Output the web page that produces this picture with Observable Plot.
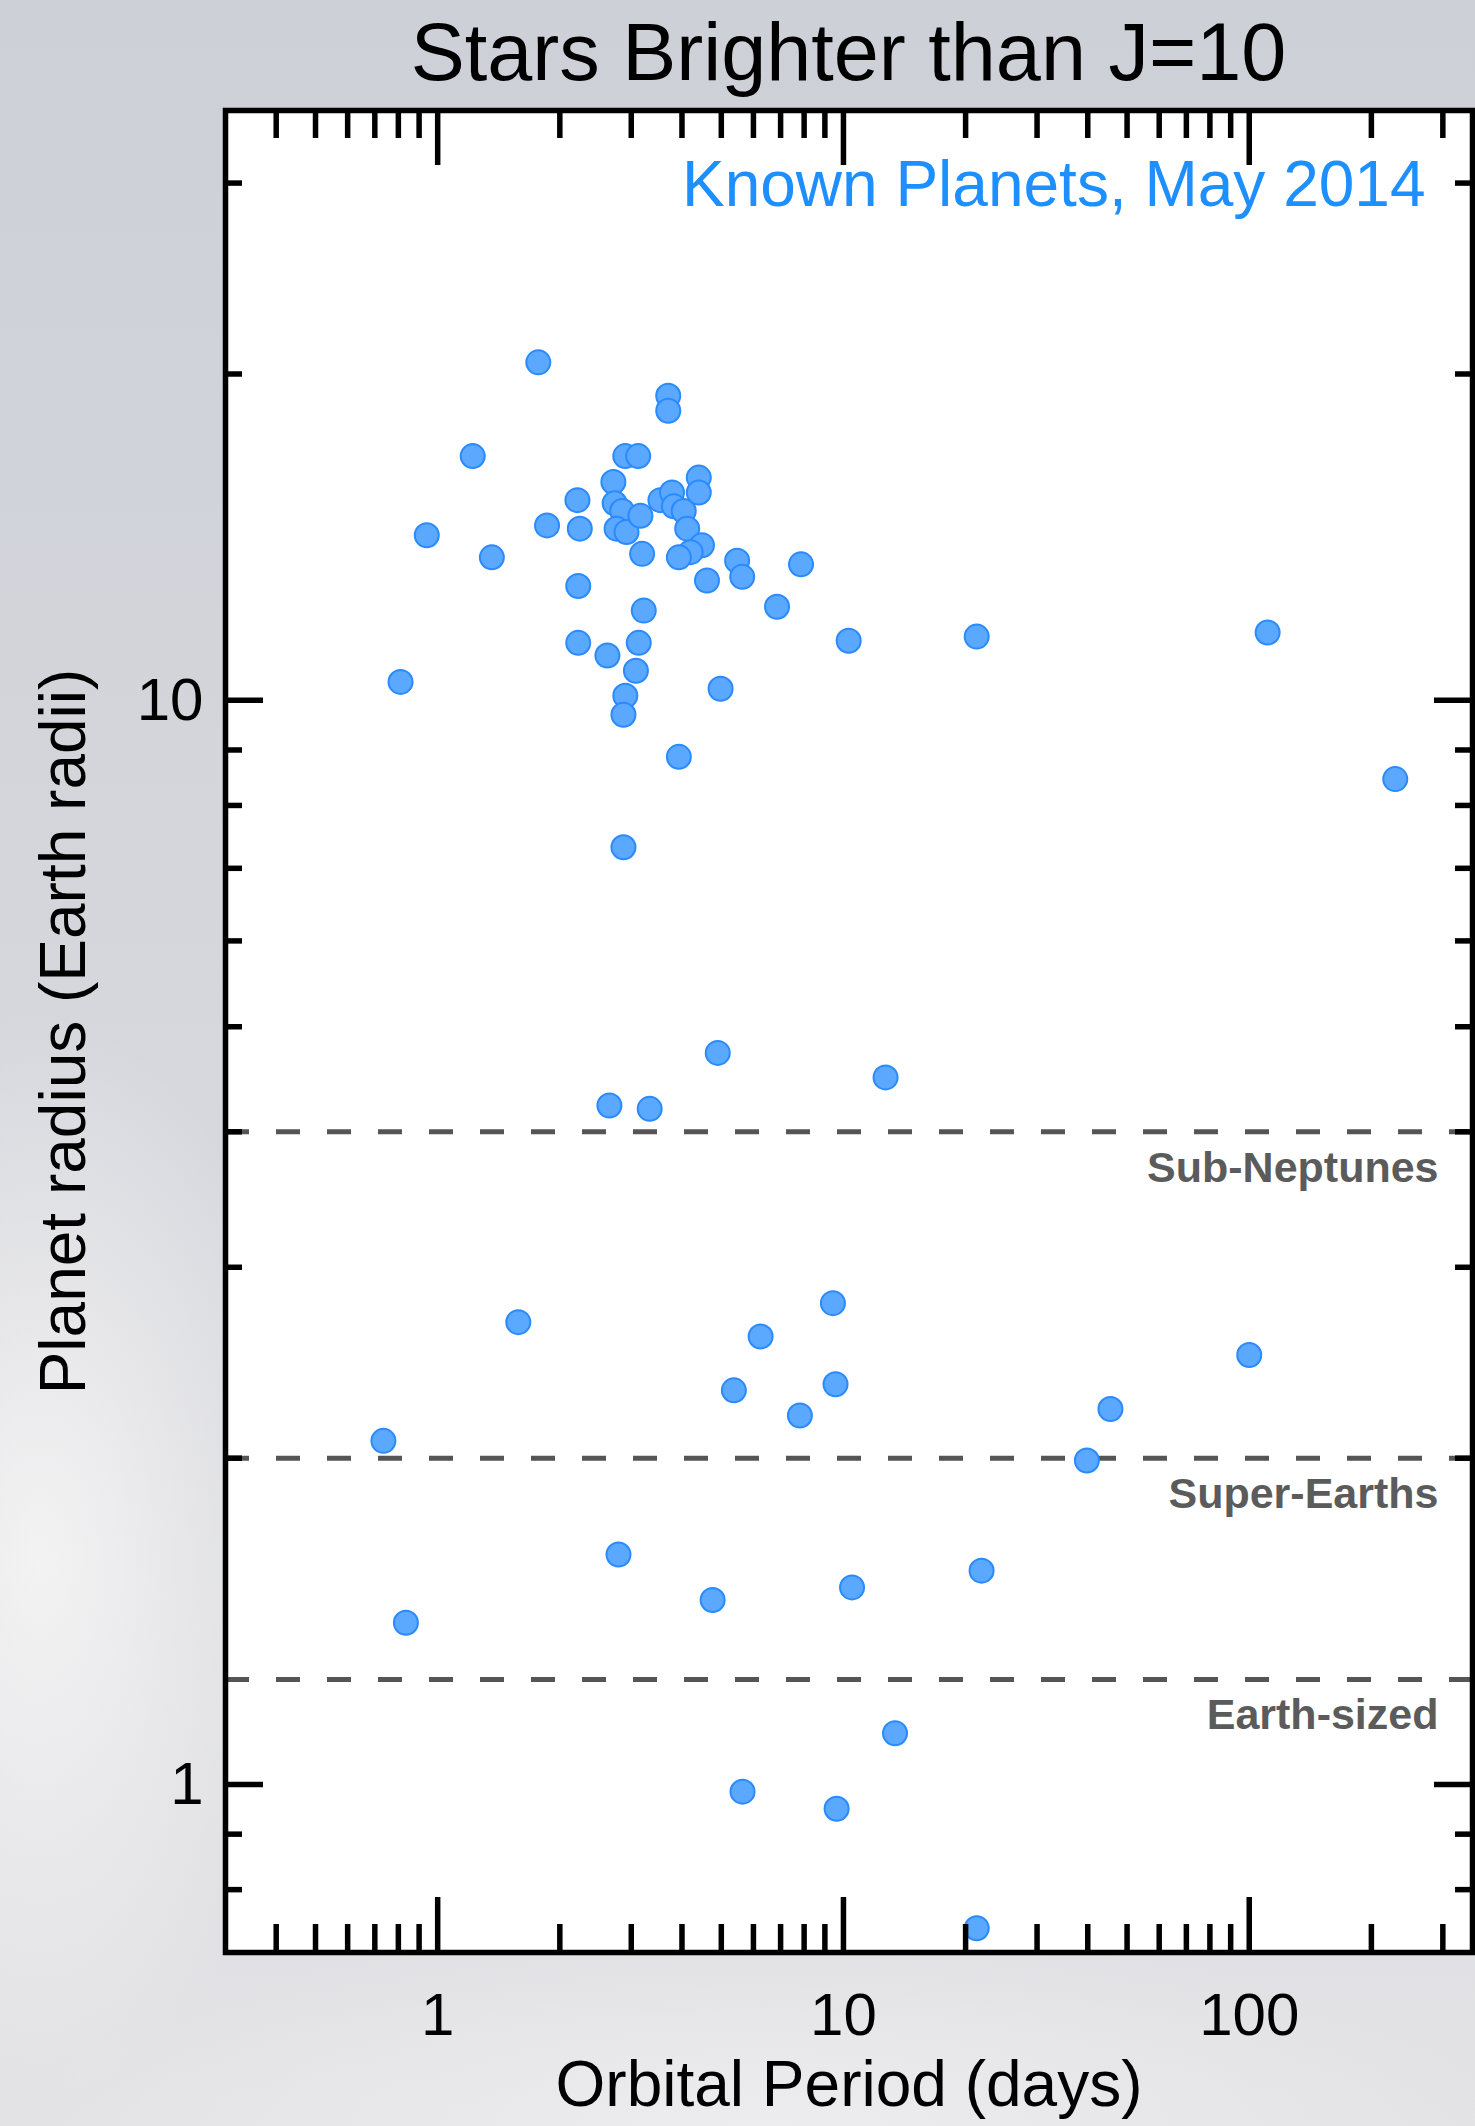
<!DOCTYPE html>
<html>
<head>
<meta charset="utf-8">
<script src="https://cdn.jsdelivr.net/npm/d3@7"></script>
<script src="https://cdn.jsdelivr.net/npm/@observablehq/plot@0.6"></script>
<style>
  html, body { margin: 0; padding: 0; }
  body {
    width: 1475px;
    height: 2126px;
    position: relative;
    overflow: hidden;
    font-family: "Liberation Sans", Arial, Helvetica, sans-serif;
    background:
      radial-gradient(ellipse 380px 760px at 40px 1560px, rgba(246,245,245,0.9), rgba(246,245,245,0) 72%),
      radial-gradient(ellipse 1000px 260px at 760px 2126px, rgba(238,238,240,0.9), rgba(238,238,240,0) 75%),
      linear-gradient(to bottom, #cdd0d7 0%, #d3d5db 35%, #d9dadf 65%, #e3e3e6 100%);
  }
  #title {
    position: absolute;
    left: 225px;
    width: 1247px;
    top: 12px;
    text-align: center;
    font-size: 81px;
    line-height: 81px;
    color: #000;
    white-space: nowrap;
  }
  #chart { position: absolute; left: 0; top: 100px; }
</style>
</head>
<body>
<div id="title">Stars Brighter than J=10</div>
<div id="chart"></div>
<script>
// Orbital period (days) and radius (Earth radii) of known transiting planets
const periodDays = [
  1.77, 3.70, 3.70, 1.22, 2.90, 3.12, 2.71, 2.21, 2.73, 2.85,
  2.76, 2.92, 3.16, 3.54, 3.78, 3.82, 4.04, 4.12, 4.40, 4.40,
  4.48, 4.20, 3.93, 3.19, 2.24, 1.86, 0.94, 1.36, 4.61, 5.47,
  5.63, 7.86, 6.86, 2.22, 3.22, 2.22, 2.62, 3.13, 3.08, 2.90,
  2.87, 0.81, 4.98, 3.93, 2.87, 10.3, 21.3, 111, 229, 4.90,
  12.7, 2.65, 3.33, 1.58, 9.42, 6.25, 100, 5.37, 9.56, 7.81,
  45.5, 0.735, 39.8, 2.79, 0.835, 4.76, 10.5, 21.9, 13.4, 5.64,
  9.62, 21.3
];
const radiusEarth = [
  20.5, 19.1, 18.5, 16.8, 16.8, 16.8, 15.9, 15.3, 15.2, 14.95,
  14.4, 14.3, 14.8, 15.3, 15.55, 15.1, 14.95, 14.4, 16.05, 15.55,
  13.9, 13.7, 13.55, 13.65, 14.4, 14.5, 14.2, 13.55, 12.9, 13.45,
  13.0, 13.35, 12.2, 12.75, 12.1, 11.3, 11.0, 11.3, 10.65, 10.1,
  9.7, 10.4, 10.25, 8.87, 7.32, 11.35, 11.45, 11.55, 8.46, 4.73,
  4.49, 4.23, 4.20, 2.67, 2.78, 2.59, 2.49, 2.31, 2.34, 2.19,
  2.22, 2.075, 1.99, 1.63, 1.41, 1.48, 1.52, 1.575, 1.115, 0.985,
  0.95, 0.737
];

// Size-class boundaries (Earth radii) and the class named just below each
const classBounds = [4, 2, 1.25];
const classNames = ["Sub-Neptunes", "Super-Earths", "Earth-sized"];

// Axis extents and tick positions
const periodDomain = [0.3, 355];
const radiusDomain = [0.7, 35];
const xMajorTicks = [1, 10, 100];
const xMinorTicks = [0.4, 0.5, 0.6, 0.7, 0.8, 0.9, 2, 3, 4, 5, 6, 7, 8, 9,
                     20, 30, 40, 50, 60, 70, 80, 90, 200, 300];
const yMajorTicks = [1, 10];
const yMinorTicks = [0.8, 0.9, 2, 3, 4, 5, 6, 7, 8, 9, 20, 30];

const xTitle = "Orbital Period (days)";
const yTitle = "Planet radius (Earth radii)";
const sampleNote = "Known Planets, May 2014";

const planets = periodDays.map((p, i) => ({period: p, radius: radiusEarth[i]}));
const classes = classBounds.map((b, i) => ({bound: b, name: classNames[i]}));

const W = 1475, H = 2026;
const M = {top: 10, right: 3, bottom: 174, left: 225};
const frameW = W - M.left - M.right;
const frameH = H - M.top - M.bottom;

const tickStyle = {stroke: "black", strokeWidth: 5.5};

const chart = Plot.plot({
  width: W,
  height: H,
  marginTop: M.top,
  marginRight: M.right,
  marginBottom: M.bottom,
  marginLeft: M.left,
  x: {type: "log", domain: periodDomain},
  y: {type: "log", domain: radiusDomain},
  style: {
    background: "transparent",
    fontFamily: "'Liberation Sans', Arial, Helvetica, sans-serif",
    overflow: "visible",
    color: "black"
  },
  marks: [
    Plot.frame({fill: "white", stroke: null}),

    // size-class boundaries and their names
    Plot.ruleY(classes, {y: "bound", stroke: "#555555", strokeWidth: 5, strokeDasharray: "24,27"}),
    Plot.text(classes, {
      y: "bound", text: "name", frameAnchor: "right", textAnchor: "end",
      lineAnchor: "middle", dx: -34, dy: 36, fontSize: 43, fontWeight: "bold", fill: "#5b5b5b"
    }),

    // planets
    Plot.dot(planets, {x: "period", y: "radius", r: 12, fill: "#5aa8ff", stroke: "#2a8aff", strokeWidth: 2}),

    // inward ticks on all four sides
    Plot.tickX(xMajorTicks, {x: d => d, insetBottom: frameH - 55, ...tickStyle}),
    Plot.tickX(xMajorTicks, {x: d => d, insetTop: frameH - 55, ...tickStyle}),
    Plot.tickX(xMinorTicks, {x: d => d, insetBottom: frameH - 28, ...tickStyle}),
    Plot.tickX(xMinorTicks, {x: d => d, insetTop: frameH - 28, ...tickStyle}),
    Plot.tickY(yMajorTicks, {y: d => d, insetRight: frameW - 38, ...tickStyle}),
    Plot.tickY(yMajorTicks, {y: d => d, insetLeft: frameW - 38, ...tickStyle}),
    Plot.tickY(yMinorTicks, {y: d => d, insetRight: frameW - 17, ...tickStyle}),
    Plot.tickY(yMinorTicks, {y: d => d, insetLeft: frameW - 17, ...tickStyle}),

    // tick labels
    Plot.axisX({ticks: xMajorTicks, tickSize: 0, tickPadding: 40, fontSize: 60, label: null, tickFormat: d => String(d)}),
    Plot.axisY({ticks: yMajorTicks, tickSize: 0, tickPadding: 22, fontSize: 60, label: null, tickFormat: d => String(d)}),

    // axis titles and sample note
    Plot.text([xTitle], {text: d => d, frameAnchor: "bottom", lineAnchor: "middle", dy: 133, fontSize: 64, fill: "black"}),
    Plot.text([yTitle], {
      text: d => d, frameAnchor: "left", textAnchor: "middle", lineAnchor: "middle",
      rotate: -90, dx: -161, fontSize: 64, fill: "black"
    }),
    Plot.text([sampleNote], {
      text: d => d, frameAnchor: "top-right", textAnchor: "end", lineAnchor: "middle",
      dx: -47, dy: 75, fontSize: 64, fill: "#1e8fff"
    }),

    Plot.frame({stroke: "black", strokeWidth: 5.5})
  ]
});

document.getElementById("chart").append(chart);
</script>
</body>
</html>
